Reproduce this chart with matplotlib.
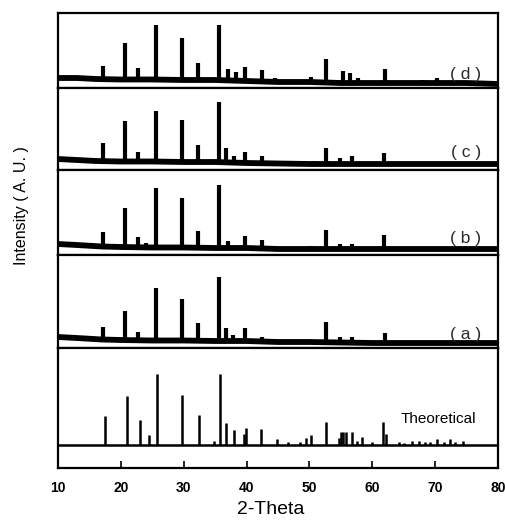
import matplotlib
matplotlib.use("Agg")
import matplotlib.pyplot as plt
import numpy as np

plt.rcParams['font.family'] = ['Liberation Sans', 'DejaVu Sans']

# ---------------- data ----------------
x_ticks = [10, 20, 30, 40, 50, 60, 70, 80]
panel_labels = ["( d )", "( c )", "( b )", "( a )"]

# experimental patterns: peak positions (2-theta) and peak tops (a.u.)
d_pos = [17.1, 20.6, 22.8, 25.6, 29.8, 32.2, 35.6, 37.1, 38.3, 39.8, 42.5, 44.6,
         50.2, 52.65, 53.8, 55.4, 56.5, 57.8, 62.1, 68.1, 70.3]
d_int = [22, 45, 20, 63, 50, 25, 63, 19, 16, 21, 18, 10,
         11, 29, 8, 17, 15, 10, 19, 8, 10]
d_base_x = [10, 13, 16, 20, 25, 30, 35, 40, 45, 50, 55, 60, 65, 70, 75, 80]
d_base_y = [10, 10, 9, 8.5, 8.5, 8, 8, 7, 6, 6, 5, 5, 5, 5, 5, 4]

c_pos = [17.1, 20.6, 22.8, 23.9, 25.6, 29.8, 32.2, 35.6, 36.8, 38.0, 39.8, 42.5,
         44.6, 49.6, 50.6, 52.7, 54.9, 56.8, 58.5, 61.8, 70.5]
c_int = [27, 49, 18, 9, 59, 50, 25, 68, 22, 14, 18, 14,
         7, 8, 9, 22, 12, 14, 8, 17, 8]
c_base_x = [10, 13, 16, 20, 25, 30, 35, 40, 45, 50, 55, 60, 65, 70, 75, 80]
c_base_y = [11, 10, 9, 8.5, 8.5, 8, 8, 7, 6.5, 6, 6, 6, 6, 6, 6, 6]

b_pos = [17.1, 20.6, 22.8, 24.0, 25.6, 29.8, 32.2, 35.6, 37.0, 39.8, 42.5, 44.6,
         50.2, 52.7, 54.9, 56.8, 58.5, 61.8, 70.5]
b_int = [23, 47, 18, 12, 67, 57, 24, 70, 14, 19, 15, 7,
         9, 25, 11, 11, 7, 20, 7]
b_base_x = [10, 13, 17, 20, 25, 30, 35, 40, 45, 50, 55, 60, 65, 70, 75, 80]
b_base_y = [11, 10, 8.5, 8, 7.5, 7.5, 7, 7, 6, 6, 6, 6, 6, 6, 6, 6]

a_pos = [17.1, 20.6, 22.8, 24.0, 25.6, 29.8, 32.2, 35.6, 36.8, 37.9, 39.8, 42.5,
         44.6, 49.5, 50.4, 52.65, 54.9, 56.8, 58.4, 62.1, 70.3, 72.4]
a_int = [21, 37, 16, 9, 60, 49, 25, 71, 20, 13, 20, 11,
         6, 8, 8, 26, 11, 11, 6, 15, 6, 7]
a_base_x = [10, 13, 17, 20, 25, 30, 35, 40, 45, 50, 55, 60, 65, 70, 75, 80]
a_base_y = [11, 10, 8.5, 8, 7.5, 7.5, 7, 7, 6, 6, 5.5, 5, 5, 5, 5, 5]

# theoretical pattern (relative intensity)
th_pos = [17.5, 21.0, 23.0, 24.5, 25.8, 29.7, 32.4, 34.8, 35.8, 36.7, 38.0, 39.6,
          39.9, 42.3, 44.8, 46.6, 48.5, 49.5, 50.3, 52.6, 54.7, 55.0, 55.4, 55.8,
          56.8, 57.5, 58.4, 59.9, 61.7, 62.2, 64.3, 65.1, 66.3, 67.4, 68.4, 69.2,
          70.3, 71.4, 72.4, 73.2, 74.5]
th_int = [41, 69, 35, 14, 100, 70, 42, 6, 100, 31, 21, 15,
          24, 23, 8, 4, 4, 10, 14, 32, 10, 18, 18, 18,
          18, 5, 11, 4, 32, 15, 4, 3, 5, 6, 4, 4,
          8, 4, 8, 4, 6]

# ---------------- layout ----------------
W, H = 506, 524
fig = plt.figure(figsize=(W / 100, H / 100), dpi=100)
L, R = 58, 498
bounds = [(13, 88), (88, 170), (170, 255), (255, 348), (348, 468)]


def make_ax(top, bot):
    return fig.add_axes([L / W, 1 - bot / H, (R - L) / W, (bot - top) / H])


exp_sets = [
    (d_pos, d_int, d_base_x, d_base_y),
    (c_pos, c_int, c_base_x, c_base_y),
    (b_pos, b_int, b_base_x, b_base_y),
    (a_pos, a_int, a_base_x, a_base_y),
]
label_y = [75, 152, 239, 334]

for i, (pos, inten, bx, by) in enumerate(exp_sets):
    top, bot = bounds[i]
    ax = make_ax(top, bot)
    ax.set_xlim(10, 80)
    ax.set_ylim(0, bot - top)
    ax.plot(bx, by, color='black', lw=4.2, solid_capstyle='butt')
    base_at = np.interp(pos, bx, by)
    ax.vlines(pos, base_at, inten, color='black', lw=3.0)
    ax.set_xticks([])
    ax.set_yticks([])
    for s in ax.spines.values():
        s.set_linewidth(1.6)
    fig.text(466 / W, 1 - label_y[i] / H, panel_labels[i], fontsize=12.5,
             color='#2a2a2a', ha='center', va='center')

# theoretical panel
top, bot = bounds[4]
axt = make_ax(top, bot)
axt.set_xlim(10, 80)
base_frac = 23
scale = 100 / 71.0
axt.set_ylim(-base_frac * scale, (bot - top - base_frac) * scale)
axt.axhline(0, color='black', lw=1.8)
axt.vlines(th_pos, 0, th_int, color='black', lw=1.8)
axt.set_yticks([])
axt.set_xticks(x_ticks)
axt.set_xticklabels([str(t) for t in x_ticks], fontsize=10, fontweight='bold')
axt.tick_params(axis='x', direction='in', length=5, width=1.2, pad=9)
for s in axt.spines.values():
    s.set_linewidth(1.6)
axt.text(438 / W, 1 - 419 / H, "Theoretical", transform=fig.transFigure,
         fontsize=11, ha='center', va='center', color='black')

fig.text(271 / W, 1 - 509 / H, "2-Theta", fontsize=14, ha='center', va='center')

fig.text(22 / W, 1 - 206 / H, "Intensity ( A. U. )", rotation=90, fontsize=11.5,
         ha='center', va='center')

fig.savefig("out.png", dpi=100)
